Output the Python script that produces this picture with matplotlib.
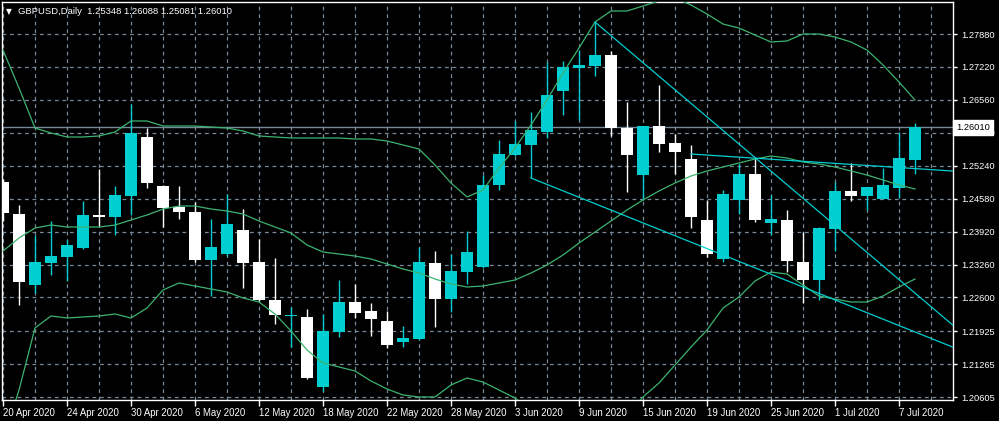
import matplotlib
matplotlib.use("Agg")
from matplotlib import pyplot as plt
from matplotlib import transforms
import numpy as np

# GBPUSD daily, 20 Apr 2020 - 8 Jul 2020
dates = ["20 Apr 2020", "24 Apr 2020", "30 Apr 2020", "6 May 2020", "12 May 2020",
         "18 May 2020", "22 May 2020", "28 May 2020", "3 Jun 2020", "9 Jun 2020",
         "15 Jun 2020", "19 Jun 2020", "25 Jun 2020", "1 Jul 2020", "7 Jul 2020"]

opens = [1.24920, 1.24273, 1.22850, 1.23291, 1.23411, 1.23592, 1.24253, 1.24213, 1.24634, 1.25816,
         1.24834, 1.24419, 1.24313, 1.23351, 1.23471, 1.23952, 1.23311, 1.22549, 1.22219, 1.22209,
         1.20806, 1.21908, 1.22509, 1.22329, 1.22129, 1.21708, 1.21768, 1.23291, 1.22569, 1.23110,
         1.23211, 1.24854, 1.25455, 1.25656, 1.25916, 1.26738, 1.27199, 1.27239, 1.27459, 1.25996,
         1.25054, 1.26036, 1.25696, 1.25375, 1.24153, 1.23371, 1.24553, 1.25074, 1.24092, 1.24153,
         1.23311, 1.22950, 1.23972, 1.24734, 1.24634, 1.24573, 1.24794, 1.25348]
highs = [1.24974, 1.24453, 1.23852, 1.24133, 1.23752, 1.24533, 1.25175, 1.24834, 1.26477, 1.25996,
         1.24850, 1.24834, 1.24513, 1.24173, 1.24674, 1.24373, 1.23772, 1.23391, 1.22409, 1.22369,
         1.22269, 1.22950, 1.22870, 1.22489, 1.22329, 1.22028, 1.23612, 1.23531, 1.23471, 1.23932,
         1.25054, 1.25756, 1.26137, 1.26317, 1.27319, 1.27339, 1.27559, 1.28120, 1.27539, 1.26517,
         1.26036, 1.26858, 1.25876, 1.25656, 1.24553, 1.24754, 1.25275, 1.25415, 1.24654, 1.24353,
         1.23912, 1.24012, 1.24914, 1.25295, 1.24814, 1.25195, 1.25916, 1.26088]
lows = [1.24139, 1.22449, 1.22696, 1.23050, 1.22930, 1.23571, 1.24032, 1.23852, 1.24253, 1.24794,
        1.24012, 1.24173, 1.23311, 1.22630, 1.23431, 1.22790, 1.22530, 1.22068, 1.21607, 1.20966,
        1.20726, 1.21808, 1.22189, 1.21828, 1.21587, 1.21607, 1.21748, 1.22008, 1.22309, 1.22870,
        1.23191, 1.24754, 1.25435, 1.24994, 1.25796, 1.26257, 1.26157, 1.27038, 1.25836, 1.24714,
        1.24553, 1.25515, 1.25074, 1.23992, 1.23411, 1.23311, 1.24273, 1.24113, 1.23852, 1.23110,
        1.22489, 1.22549, 1.23531, 1.24533, 1.24353, 1.24573, 1.24593, 1.25081]
closes = [1.24299, 1.22910, 1.23311, 1.23431, 1.23652, 1.24253, 1.24213, 1.24654, 1.25896, 1.24894,
          1.24393, 1.24313, 1.23351, 1.23612, 1.24072, 1.23291, 1.22549, 1.22249, 1.22229, 1.20986,
          1.21928, 1.22509, 1.22289, 1.22169, 1.21648, 1.21788, 1.23311, 1.22569, 1.23130, 1.23511,
          1.24854, 1.25475, 1.25676, 1.25956, 1.26658, 1.27219, 1.27259, 1.27459, 1.25996, 1.25455,
          1.26036, 1.25676, 1.25515, 1.24213, 1.23471, 1.24674, 1.25074, 1.24153, 1.24173, 1.23331,
          1.22950, 1.23992, 1.24734, 1.24634, 1.24814, 1.24854, 1.25395, 1.26010]

# Bollinger bands
bb_upper = [1.27559, 1.26798, 1.25996, 1.25896, 1.25816, 1.25816, 1.25836, 1.25916, 1.26137, 1.26137,
            1.26036, 1.26036, 1.26036, 1.26016, 1.25996, 1.25936, 1.25836, 1.25816, 1.25796, 1.25796,
            1.25796, 1.25796, 1.25776, 1.25776, 1.25736, 1.25656, 1.25575, 1.25255, 1.24894, 1.24614,
            1.24754, 1.25195, 1.25595, 1.26056, 1.26557, 1.27098, 1.27600, 1.28120, 1.28341, 1.28341,
            1.28441, 1.28541, 1.28601, 1.28461, 1.28281, 1.28080, 1.28000, 1.27860, 1.27720, 1.27740,
            1.27880, 1.27880, 1.27820, 1.27720, 1.27559, 1.27259, 1.26918, 1.26557]
bb_middle = [1.23531, 1.23792, 1.23992, 1.24052, 1.24012, 1.24012, 1.24012, 1.24052, 1.24153, 1.24253,
             1.24373, 1.24433, 1.24433, 1.24373, 1.24333, 1.24273, 1.24133, 1.24012, 1.23892, 1.23652,
             1.23511, 1.23471, 1.23431, 1.23371, 1.23271, 1.23171, 1.23090, 1.22970, 1.22870, 1.22810,
             1.22830, 1.22890, 1.22950, 1.23090, 1.23251, 1.23451, 1.23692, 1.23912, 1.24133, 1.24353,
             1.24553, 1.24734, 1.24894, 1.25034, 1.25135, 1.25215, 1.25295, 1.25375, 1.25435, 1.25395,
             1.25315, 1.25275, 1.25215, 1.25135, 1.25054, 1.24954, 1.24854, 1.24774]
bb_lower = [1.19744, 1.20746, 1.21988, 1.22229, 1.22189, 1.22209, 1.22229, 1.22269, 1.22189, 1.22389,
            1.22750, 1.22890, 1.22830, 1.22770, 1.22710, 1.22590, 1.22509, 1.22269, 1.21928, 1.21547,
            1.21287, 1.21207, 1.21127, 1.20926, 1.20766, 1.20646, 1.20606, 1.20606, 1.20846, 1.20986,
            1.20906, 1.20746, 1.20585, 1.20345, 1.20145, 1.19984, 1.19904, 1.19904, 1.19984, 1.20245,
            1.20606, 1.20886, 1.21247, 1.21607, 1.21948, 1.22389, 1.22610, 1.22930, 1.23110, 1.23070,
            1.22850, 1.22630, 1.22569, 1.22509, 1.22509, 1.22630, 1.22810, 1.22970]

# trendlines: (bar, price) anchor pairs
trend_lines = [((33, 1.24994), (57, 1.21909)),
               ((37, 1.28120), (57, 1.22688)),
               ((43, 1.25475), (57, 1.25183))]

price_ticks = [1.27880, 1.27220, 1.26560, 1.25900, 1.25240, 1.24580, 1.23920,
               1.23260, 1.22600, 1.21925, 1.21265, 1.20605]
last_price = 1.26010

BULL = '#00ced1'
BEAR = 'white'
GRID = '#778899'
BAND = '#3cb371'

plt.rcParams['font.family'] = ['Liberation Sans', 'DejaVu Sans']

fig = plt.figure(figsize=(9.99, 4.21), dpi=100, facecolor='black')
ax = fig.add_axes([2 / 999, 21 / 421, 951 / 999, 398 / 421])
ax.set_facecolor('black')

n = len(opens)
x = np.arange(n)
o = np.array(opens)
c = np.array(closes)
cols = [BULL if c[i] >= o[i] else BEAR for i in range(n)]

ax.vlines(x, lows, highs, colors=cols, lw=1.0, zorder=3)
body = np.maximum(np.abs(c - o), 0.00022)
ax.bar(x, body, bottom=np.minimum(o, c), width=0.69, color=cols, linewidth=0, zorder=4)

ax.plot(x, bb_upper, color=BAND, lw=0.9, zorder=5)
ax.plot(x, bb_middle, color=BAND, lw=0.9, zorder=5)
ax.plot(x, bb_lower, color=BAND, lw=0.9, zorder=5)

for (x1, y1), (x2, y2) in trend_lines:
    k = (y2 - y1) / (x2 - x1)
    xe = 62
    ax.plot([x1, xe], [y1, y1 + k * (xe - x1)], color=BULL, lw=0.9, zorder=6)

ax.axhline(last_price, color=GRID, lw=1.0, zorder=2)

ax.set_xlim(-0.0625, 59.375)
ax.set_ylim(1.205454, 1.285213)

ax.set_xticks(np.arange(0, 57, 4))
ax.set_xticks(np.arange(2, 59, 4), minor=True)
ax.set_xticklabels(dates)
for lbl in ax.get_xticklabels():
    lbl.set_ha('left')
ax.tick_params(axis='x', which='major', length=4, width=1, color='white', colors='white',
               labelsize=6.9, pad=2)
ax.tick_params(axis='x', which='minor', length=0)

ax.yaxis.tick_right()
ax.set_yticks(price_ticks)
ax.set_yticklabels(['%.5f' % p for p in price_ticks])
ax.tick_params(axis='y', length=3, width=1, color='white', colors='white', labelsize=6.7, pad=3)

ax.grid(True, which='both', color=GRID, lw=0.9, linestyle=(0, (3, 3)), zorder=1)
ax.set_axisbelow(True)
for s in ax.spines.values():
    s.set_color('white')
    s.set_linewidth(1.0)

trans = transforms.blended_transform_factory(ax.transAxes, ax.transData)
ax.text(1.003, last_price, '%.5f' % last_price, transform=trans, va='center', ha='left',
        fontsize=6.7, color='black', zorder=10, clip_on=False,
        bbox=dict(boxstyle='square,pad=0.3', fc='white', ec='white'))

ax.text(0.004, 0.975, '\u25bc', transform=ax.transAxes, fontsize=5.5, color='white',
        va='center', ha='left', family=['DejaVu Sans'])
ax.text(0.017, 0.975, 'GBPUSD,Daily  1.25348 1.26088 1.25081 1.26010', transform=ax.transAxes,
        fontsize=6.8, color='white', va='center', ha='left')

fig.savefig('out.png', dpi=100, facecolor='black')
